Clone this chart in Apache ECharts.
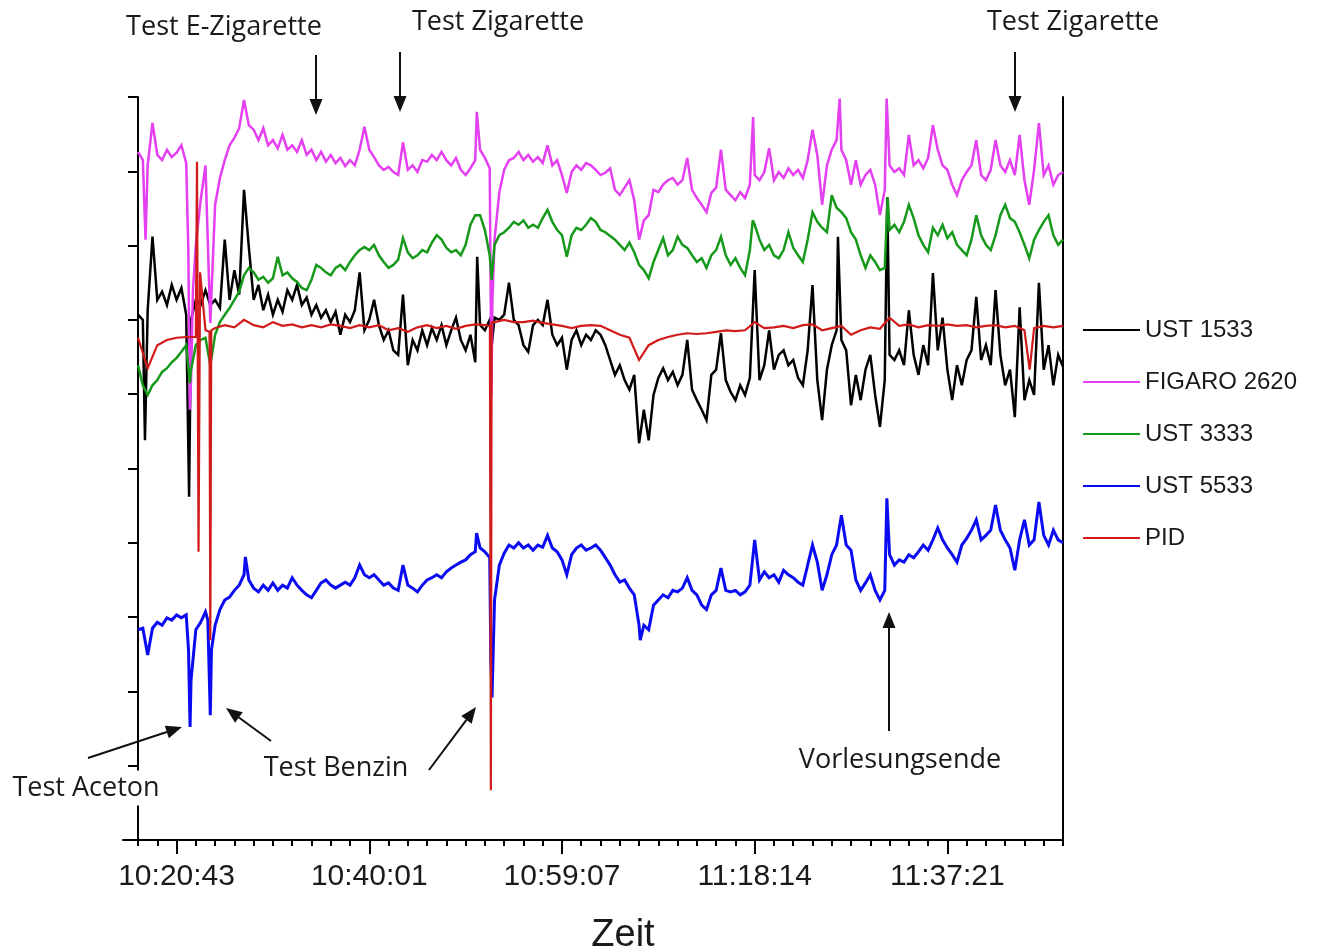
<!DOCTYPE html>
<html>
<head>
<meta charset="utf-8">
<title>Sensorvergleich</title>
<script src="https://cdn.jsdelivr.net/npm/echarts@6.0.0/dist/echarts.min.js"></script>
<style>
    html, body { margin: 0; padding: 0; background: #fff; }
    #chart { width: 1317px; height: 950px; }
</style>
</head>
<body>
<div id="chart"></div>
<script>
// x in Einheiten der kleinen Teilstriche (1 Einheit ~ 1,9 min), y ohne Einheit
const STEP = 0.25
const PID_STEP = 0.5

const timeLabels = ['10:20:43', '10:40:01', '10:59:07', '11:18:14', '11:37:21']
const labelTicks = [2, 12, 22, 32, 42]

const ust1533 = [
    7.07, 7.00, 7.13, 8.12, 7.27, 7.38, 7.20, 7.47, 7.27, 7.43,
    7.07, 7.00, 7.27, 7.20, 7.40, 7.20, 7.27, 7.16, 8.08, 7.27,
    7.67, 7.34, 8.75, 7.98, 7.27, 7.47, 7.13, 7.34, 7.07, 7.27,
    7.11, 7.40, 7.27, 7.47, 7.20, 7.30, 7.07, 7.20, 7.03, 7.13,
    6.97, 7.11, 6.80, 7.07, 6.97, 7.13, 7.64, 6.86, 7.00, 7.27,
    6.93, 6.73, 6.86, 6.59, 6.53, 7.34, 6.39, 6.73, 6.59, 6.86,
    6.66, 6.89, 6.73, 6.93, 6.66, 6.86, 7.03, 6.73, 6.59, 6.80,
    6.43, 6.93, 6.86, 7.00, 7.03, 7.00, 7.07, 7.50, 7.00, 6.93,
    6.66, 6.57, 6.93, 7.00, 6.93, 7.27, 6.80, 6.66, 6.76, 6.33,
    6.73, 6.86, 6.66, 6.80, 6.73, 6.86, 6.80, 6.66, 6.46, 6.26,
    6.39, 6.19, 6.06, 6.26, 5.34, 5.79, 5.38, 5.99, 6.22, 6.35,
    6.19, 6.30, 6.12, 6.26, 6.73, 6.06, 5.92, 5.79, 5.65, 6.26,
    6.33, 6.82, 6.19, 6.03, 5.92, 6.12, 5.99, 6.22, 7.67, 6.19,
    6.39, 6.86, 6.33, 6.53, 6.59, 6.39, 6.46, 6.22, 6.12, 6.59,
    7.47, 6.19, 5.65, 6.33, 6.66, 6.86, 6.73, 6.59, 5.85, 6.26,
    5.92, 6.33, 6.53, 5.99, 5.56, 6.19, 6.53, 6.46, 6.59, 6.39,
    7.13, 6.53, 6.26, 6.66, 6.39, 7.63, 6.59, 7.03, 6.33, 5.92,
    6.39, 6.12, 6.46, 6.59, 7.31, 6.46, 6.66, 6.39, 7.40, 6.53,
    6.12, 6.33, 5.69, 7.17, 5.92, 6.19, 5.99, 7.50, 6.33, 6.66,
    6.12, 6.53, 6.37
]
const ust1533Peaks = [[0.36, 5.38], [2.65, 4.62], [17.60, 7.85], [18.35, 6.64], [36.32, 8.12], [38.88, 8.65]]

const figaro2620 = [
    9.26, 9.15, 9.08, 9.65, 9.22, 9.15, 9.29, 9.19, 9.25, 9.35,
    9.11, 6.19, 8.01, 8.61, 9.08, 6.96, 8.55, 8.91, 9.15, 9.35,
    9.45, 9.58, 9.96, 9.62, 9.56, 9.42, 9.58, 9.35, 9.42, 9.31,
    9.49, 9.29, 9.35, 9.26, 9.42, 9.22, 9.29, 9.15, 9.26, 9.13,
    9.22, 9.11, 9.18, 9.07, 9.15, 9.08, 9.29, 9.60, 9.29, 9.19,
    9.08, 9.02, 9.06, 8.99, 8.95, 9.39, 9.02, 9.08, 8.99, 9.15,
    9.13, 9.22, 9.15, 9.26, 9.15, 9.08, 9.18, 9.02, 8.95, 9.04,
    9.15, 9.29, 9.18, 9.04, 8.08, 8.72, 9.02, 9.15, 9.18, 9.26,
    9.15, 9.22, 9.13, 9.19, 9.11, 9.35, 9.08, 9.15, 8.95, 8.71,
    8.99, 9.08, 9.02, 9.11, 9.08, 9.02, 8.95, 8.98, 9.04, 8.75,
    8.68, 8.78, 8.88, 8.61, 8.08, 8.34, 8.41, 8.75, 8.72, 8.82,
    8.88, 8.91, 8.82, 8.88, 9.18, 8.75, 8.64, 8.55, 8.45, 8.71,
    8.78, 9.29, 8.75, 8.68, 8.61, 8.72, 8.64, 8.82, 8.95, 8.88,
    8.99, 9.31, 8.88, 8.99, 8.91, 9.04, 8.95, 9.02, 8.91, 9.15,
    9.56, 9.22, 8.55, 9.08, 9.29, 9.42, 9.29, 9.15, 8.82, 9.15,
    8.82, 8.95, 9.02, 8.82, 8.41, 8.75, 9.08, 8.99, 9.04, 8.95,
    9.49, 9.08, 9.15, 9.04, 9.18, 9.62, 9.29, 9.08, 9.02, 8.82,
    8.68, 8.88, 8.99, 9.08, 9.42, 8.95, 8.88, 9.02, 9.42, 9.08,
    8.99, 9.15, 8.95, 9.49, 8.88, 8.55, 9.02, 9.65, 8.95, 9.08,
    8.82, 8.95, 8.99
]
const figaro2620Peaks = [[0.39, 8.08], [2.61, 7.94], [2.69, 5.79], [2.85, 7.40], [5.56, 9.98], [17.58, 9.80],
    [18.34, 5.99], [18.39, 7.27], [31.92, 9.73], [36.41, 9.98], [38.85, 9.98]]

const ust3333 = [
    6.39, 6.12, 5.99, 6.12, 6.19, 6.30, 6.35, 6.43, 6.49, 6.57,
    6.66, 6.33, 6.66, 6.73, 6.76, 6.39, 6.80, 6.97, 7.07, 7.16,
    7.27, 7.38, 7.60, 7.70, 7.64, 7.54, 7.58, 7.50, 7.56, 7.85,
    7.60, 7.64, 7.56, 7.51, 7.43, 7.40, 7.54, 7.74, 7.70, 7.64,
    7.60, 7.70, 7.74, 7.67, 7.78, 7.87, 7.94, 7.98, 7.94, 8.01,
    7.87, 7.78, 7.70, 7.74, 7.81, 8.10, 7.91, 7.83, 7.87, 7.94,
    7.91, 8.04, 8.14, 8.08, 7.97, 7.91, 7.94, 7.87, 8.01, 8.28,
    8.41, 8.41, 8.21, 7.87, 8.01, 8.14, 8.18, 8.24, 8.32, 8.28,
    8.34, 8.24, 8.28, 8.24, 8.37, 8.48, 8.32, 8.21, 8.14, 7.85,
    8.14, 8.24, 8.21, 8.28, 8.37, 8.32, 8.21, 8.18, 8.13, 8.08,
    8.01, 7.94, 8.04, 7.91, 7.74, 7.67, 7.56, 7.78, 7.94, 8.10,
    7.87, 7.94, 8.12, 8.01, 7.97, 7.87, 7.78, 7.83, 7.70, 7.87,
    7.94, 8.12, 7.87, 7.74, 7.83, 7.70, 7.60, 7.94, 8.28, 8.08,
    7.94, 8.01, 7.87, 7.83, 7.94, 8.18, 7.97, 7.87, 7.78, 8.08,
    8.45, 8.32, 8.24, 8.18, 8.68, 8.51, 8.45, 8.37, 8.18, 8.08,
    7.87, 7.70, 7.87, 7.78, 7.67, 7.70, 8.21, 8.28, 8.18, 8.32,
    8.55, 8.37, 8.14, 8.01, 7.91, 8.24, 8.14, 8.28, 8.10, 8.18,
    8.01, 7.94, 7.87, 8.08, 8.41, 8.14, 8.01, 7.94, 8.14, 8.41,
    8.55, 8.37, 8.32, 8.18, 8.01, 7.83, 8.08, 8.21, 8.32, 8.41,
    8.14, 8.01, 8.08
]
const ust3333Peaks = [[2.69, 6.15], [18.35, 7.54], [31.90, 8.34], [38.90, 8.65]]

const ust5533 = [
    2.83, 2.85, 2.49, 2.85, 2.93, 2.89, 2.99, 2.96, 3.03, 2.99,
    3.03, 2.15, 2.83, 2.93, 3.07, 1.68, 2.89, 3.10, 3.23, 3.27,
    3.36, 3.43, 3.57, 3.50, 3.39, 3.34, 3.43, 3.36, 3.46, 3.36,
    3.43, 3.39, 3.53, 3.43, 3.36, 3.30, 3.26, 3.36, 3.46, 3.50,
    3.43, 3.39, 3.43, 3.47, 3.43, 3.53, 3.70, 3.57, 3.53, 3.57,
    3.50, 3.43, 3.46, 3.39, 3.36, 3.70, 3.43, 3.39, 3.34, 3.43,
    3.50, 3.53, 3.57, 3.53, 3.61, 3.66, 3.70, 3.74, 3.77, 3.84,
    3.88, 3.93, 3.88, 3.80, 3.23, 3.70, 3.86, 3.97, 3.93, 4.00,
    3.93, 3.97, 3.90, 3.97, 3.94, 4.10, 3.93, 3.88, 3.77, 3.57,
    3.84, 3.93, 3.97, 3.90, 3.93, 3.97, 3.90, 3.80, 3.70, 3.57,
    3.47, 3.50, 3.39, 3.30, 2.89, 2.89, 2.83, 3.16, 3.23, 3.30,
    3.26, 3.36, 3.34, 3.39, 3.53, 3.36, 3.30, 3.16, 3.10, 3.30,
    3.36, 3.66, 3.36, 3.34, 3.36, 3.30, 3.34, 3.43, 4.04, 3.50,
    3.61, 3.53, 3.57, 3.47, 3.63, 3.57, 3.53, 3.47, 3.43, 3.70,
    3.97, 3.74, 3.36, 3.57, 3.84, 3.97, 4.37, 3.97, 3.90, 3.50,
    3.36, 3.46, 3.57, 3.36, 3.23, 3.36, 3.84, 3.70, 3.77, 3.74,
    3.84, 3.80, 3.88, 3.97, 3.90, 4.04, 4.20, 4.04, 3.93, 3.84,
    3.74, 3.97, 4.06, 4.17, 4.31, 4.04, 4.10, 4.17, 4.51, 4.17,
    4.04, 3.93, 3.63, 4.04, 4.31, 3.97, 4.04, 4.55, 4.10, 3.97,
    4.17, 4.04, 4.00
]
const ust5533Peaks = [[2.62, 2.56], [2.70, 1.52], [3.62, 2.96], [3.81, 2.56], [5.57, 3.81], [17.57, 4.13],
    [18.31, 2.42], [18.37, 1.92], [26.06, 2.69], [38.86, 4.60]]

const pid = [
    6.76, 6.35, 6.66, 6.73, 6.76, 6.77, 6.77, 6.86, 6.89, 6.93,
    6.90, 7.00, 6.93, 6.90, 6.97, 6.92, 6.94, 6.90, 6.93, 6.90,
    6.94, 6.92, 6.89, 6.93, 6.90, 6.93, 6.86, 6.89, 6.84, 6.90,
    6.93, 6.89, 6.92, 6.88, 6.92, 6.94, 6.93, 6.97, 7.00, 6.97,
    6.97, 6.99, 6.96, 6.94, 6.92, 6.89, 6.92, 6.93, 6.92, 6.86,
    6.80, 6.76, 6.46, 6.66, 6.73, 6.77, 6.80, 6.82, 6.81, 6.82,
    6.84, 6.86, 6.85, 6.86, 6.97, 6.89, 6.90, 6.92, 6.89, 6.93,
    6.94, 6.86, 6.89, 6.92, 6.80, 6.86, 6.90, 6.88, 7.03, 6.92,
    6.94, 6.90, 6.93, 6.92, 6.94, 6.92, 6.93, 6.90, 6.92, 6.93,
    6.90, 6.92, 6.86, 6.89, 6.92, 6.90, 6.92
]
const pidPeaks = [[3.06, 9.13], [3.14, 3.88], [3.22, 7.64], [3.71, 6.84], [3.75, 2.69], [3.80, 6.86],
    [18.26, 6.92], [18.31, 0.67], [18.35, 6.97], [46.27, 6.33]]

const minorTicks = []
for (let t = 0; t <= 48; t++) minorTicks.push(t)

function toPoints (values, step, peaks) {
    let pts = values.map((v, i) => [+(i * step).toFixed(2), v])
    return pts.concat(peaks).sort((a, b) => a[0] - b[0])
}

function arrow (x1, y1, x2, y2) {
    let len = Math.hypot(x2 - x1, y2 - y1)
    let ux = (x2 - x1) / len, uy = (y2 - y1) / len
    let head = 16, half = 6.5
    let bx = x2 - ux * head, by = y2 - uy * head
    return {
        type: 'group',
        children: [{
            type: 'line',
            shape: { x1: x1, y1: y1, x2: bx, y2: by },
            style: { stroke: '#111', lineWidth: 2 }
        }, {
            type: 'polygon',
            shape: { points: [[x2, y2], [bx - uy * half, by + ux * half], [bx + uy * half, by - ux * half]] },
            style: { fill: '#111' }
        }]
    }
}

function note (text, x, y, bg) {
    let style = {
        text: text, x: x, y: y,
        font: '27px "Open Sans"', fill: '#1a1a1a',
        align: 'center', verticalAlign: 'middle',
        textAlign: 'center', textVerticalAlign: 'middle'
    }
    if (bg) { style.backgroundColor = '#fff'; style.padding = [4, 2] }
    return { type: 'text', z: 100, style: style }
}

const colors = ['#000000', '#e43ff0', '#16991a', '#0b0bf2', '#d11a1a']
const widths = [2.5, 2.5, 2.5, 3, 2.2]
const names = ['UST 1533', 'FIGARO 2620', 'UST 3333', 'UST 5533', 'PID']
const lines = [
    toPoints(ust1533, STEP, ust1533Peaks),
    toPoints(figaro2620, STEP, figaro2620Peaks),
    toPoints(ust3333, STEP, ust3333Peaks),
    toPoints(ust5533, STEP, ust5533Peaks),
    toPoints(pid, PID_STEP, pidPeaks)
]

let chart = echarts.init(document.getElementById('chart'))

let option = {
    animation: false,
    backgroundColor: '#fff',
    grid: { left: 123, right: 254, top: 97, bottom: 110 },
    legend: {
        orient: 'vertical',
        left: 1078,
        top: 313,
        icon: 'rect',
        itemWidth: 57,
        itemHeight: 2,
        itemGap: 28,
        textStyle: { fontSize: 24, lineHeight: 24, fontFamily: 'Liberation Sans', color: '#1a1a1a' },
        data: names
    },
    xAxis: [{
        type: 'value',
        min: -0.78,
        max: 48,
        axisLine: { onZero: true, lineStyle: { color: '#000', width: 2 } },
        axisTick: { show: true, customValues: minorTicks, length: 6, lineStyle: { color: '#000', width: 2 } },
        axisLabel: { show: false },
        splitLine: { show: false }
    }, {
        type: 'value',
        position: 'bottom',
        min: -0.78,
        max: 48,
        axisLine: { show: false },
        axisTick: { show: true, customValues: labelTicks, length: 14, lineStyle: { color: '#000', width: 2 } },
        axisLabel: {
            customValues: labelTicks,
            formatter: v => timeLabels[labelTicks.indexOf(v)],
            margin: 22,
            fontSize: 30,
            fontFamily: 'Liberation Sans',
            color: '#1a1a1a'
        },
        splitLine: { show: false }
    }],
    yAxis: [{
        type: 'value',
        min: 0,
        max: 10,
        interval: 1,
        axisLine: { show: true, onZero: true, lineStyle: { color: '#000', width: 2 } },
        axisTick: { show: true, length: 10, lineStyle: { color: '#000', width: 2 } },
        axisLabel: { show: false },
        splitLine: { show: false }
    }, {
        type: 'value',
        position: 'right',
        min: 0,
        max: 10,
        axisLine: { show: true, onZero: false, lineStyle: { color: '#000', width: 2 } },
        axisTick: { show: false },
        axisLabel: { show: false },
        splitLine: { show: false }
    }],
    series: names.map((name, k) => ({
        name: name,
        type: 'line',
        data: lines[k],
        symbol: 'none',
        showSymbol: false,
        sampling: null,
        color: colors[k],
        lineStyle: { color: colors[k], width: widths[k], join: 'miter', miterLimit: 4 },
        z: 2 + k
    })),
    graphic: {
        elements: [
            note('Test E-Zigarette', 224, 27),
            note('Test Zigarette', 498, 22),
            note('Test Zigarette', 1073, 22),
            note('Test Aceton', 86, 788, true),
            note('Test Benzin', 336, 768),
            note('Vorlesungsende', 900, 760),
            arrow(316, 55, 316, 115),
            arrow(400, 52, 400, 112),
            arrow(1015, 52, 1015, 112),
            arrow(88, 758, 182, 727),
            arrow(271, 741, 226, 708),
            arrow(429, 770, 476, 707),
            arrow(889, 731, 889, 612),
            {
                type: 'text', z: 100,
                style: {
                    text: 'Zeit', x: 623, y: 936,
                    font: '38px "Liberation Sans"', fill: '#1a1a1a',
                    align: 'center', verticalAlign: 'middle',
                    textAlign: 'center', textVerticalAlign: 'middle'
                }
            }
        ]
    }
}

chart.setOption(option)
</script>
</body>
</html>
